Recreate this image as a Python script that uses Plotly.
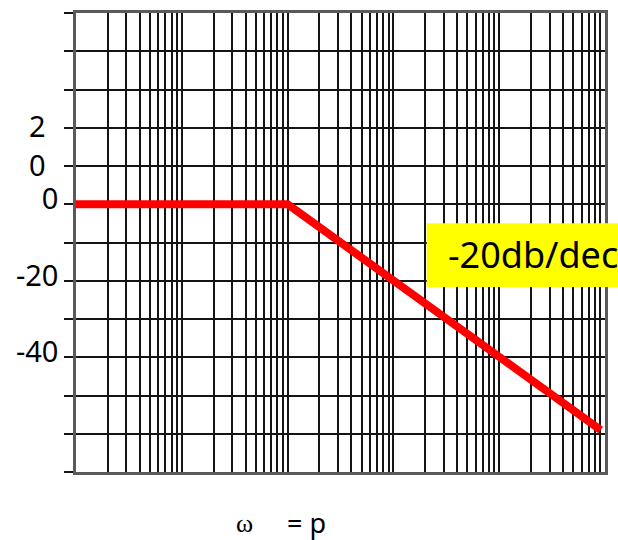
import plotly.graph_objects as go

# Asymptotic Bode magnitude of a single real pole at ω = p
omega = [1, 100, 91000]
gain_db = [0, 0, -59]

# Log grid: every integer multiple inside each decade
decades = [1, 10, 100, 1000, 10000]
x_grid = [m * d for d in decades for m in range(1, 10)] + [100000]

# Horizontal grid every 10 dB, labelled at 0, -20, -40
y_grid = list(range(-70, 51, 10))
y_named = {0: "0", -20: "-20", -40: "-40"}
y_text = [y_named.get(v, "") for v in y_grid]
upper_digits = ["2", "0"]

slope_label = "-20db/dec"
x_title_symbol = "ω"
x_title_rest = "= p"

GRID = "#141414"
FRAME = "#5a5a5a"
SANS = "Noto Sans, Liberation Sans, Arial, sans-serif"
SERIF = "Liberation Serif, Times New Roman, serif"

fig = go.Figure()
fig.add_trace(go.Scatter(
    x=omega, y=gain_db, mode="lines",
    line=dict(color="#ff0000", width=8),
    hoverinfo="skip", showlegend=False,
))

fig.update_xaxes(
    type="log", range=[0, 5],
    tickvals=x_grid, showticklabels=False, ticks="",
    showgrid=True, gridcolor=GRID, gridwidth=1.8,
    showline=True, mirror=True, linecolor=FRAME, linewidth=2.5,
    zeroline=False,
)
fig.update_yaxes(
    range=[-70, 50],
    tickvals=y_grid, ticktext=y_text,
    ticks="outside", ticklen=9, tickcolor=GRID, tickwidth=1.8,
    tickfont=dict(family=SANS, size=29, color="#000000"),
    ticklabelshift=-5,
    showgrid=True, gridcolor=GRID, gridwidth=1.8,
    showline=True, mirror=True, linecolor=FRAME, linewidth=2.5,
    zeroline=False,
)

# "20" drawn as two stacked digits beside the upper grid lines
for digit, ypos in zip(upper_digits, [0.7554, 0.6699]):
    fig.add_annotation(
        text=digit, xref="paper", yref="paper", x=-0.0737, y=ypos,
        xanchor="center", yanchor="middle", showarrow=False,
        font=dict(family=SANS, size=29, color="#000000"),
    )

# Yellow slope tag
fig.add_shape(
    type="rect", xref="paper", yref="paper",
    x0=0.663, x1=1.03, y0=0.4032, y1=0.5418,
    fillcolor="#ffff00", line=dict(width=0), layer="above",
)
fig.add_annotation(
    text=slope_label, xref="paper", yref="paper", x=0.7, y=0.473,
    xanchor="left", yanchor="middle", showarrow=False,
    font=dict(family=SANS, size=36, color="#000000"),
)

# Axis caption below the corner frequency
fig.add_annotation(
    text=x_title_symbol, xref="paper", yref="paper", x=0.3186, y=-0.1126,
    xanchor="center", yanchor="middle", showarrow=False,
    font=dict(family=SERIF, size=26, color="#000000"),
)
fig.add_annotation(
    text=x_title_rest, xref="paper", yref="paper", x=0.4357, y=-0.1104,
    xanchor="center", yanchor="middle", showarrow=False,
    font=dict(family=SANS, size=27, color="#000000"),
)

fig.update_layout(
    width=618, height=540, autosize=False,
    margin=dict(l=76, r=13, t=10, b=68, pad=0),
    plot_bgcolor="#ffffff", paper_bgcolor="#ffffff",
    showlegend=False,
)

fig.write_html("out.html", config={"displayModeBar": False})
